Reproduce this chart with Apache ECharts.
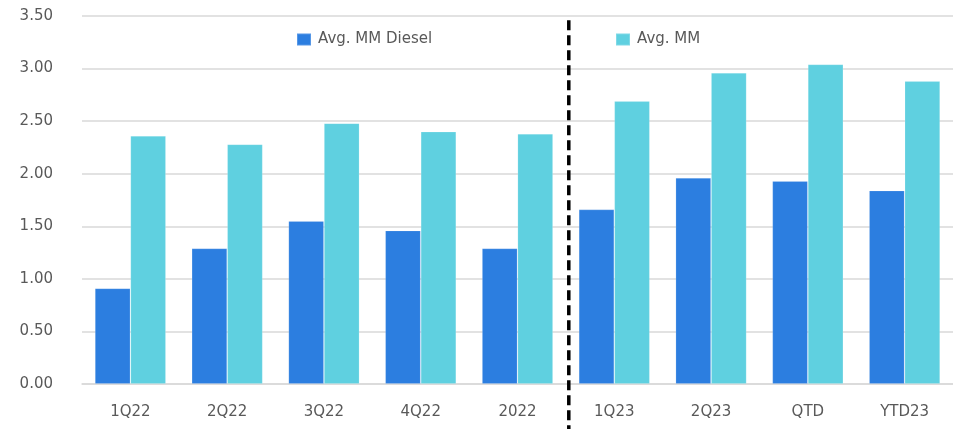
<!DOCTYPE html>
<html>
<head>
<meta charset="utf-8">
<script src="https://cdn.jsdelivr.net/npm/echarts@6/dist/echarts.min.js"></script>
<style>
  html, body { margin: 0; padding: 0; background: #ffffff; }
  #chart { width: 953px; height: 429px; }
</style>
</head>
<body>
<div id="chart"></div>
<script>
// Periods shown on the category axis
const periods = ['1Q22', '2Q22', '3Q22', '4Q22', '2022', '1Q23', '2Q23', 'QTD', 'YTD23'];
// Series values
const dieselValues = [0.91, 1.29, 1.55, 1.46, 1.29, 1.66, 1.96, 1.93, 1.84];
const mmValues = [2.36, 2.28, 2.48, 2.40, 2.38, 2.69, 2.96, 3.04, 2.88];
// Series names
const dieselName = 'Avg. MM Diesel';
const mmName = 'Avg. MM';
// Value axis range and step
const yMin = 0, yMax = 3.5, yStep = 0.5;
// The divider sits between these two periods
const dividerAfter = '2022';
const dividerBefore = '1Q23';

const FONT = 'DejaVu Sans';
const TEXT = '#595959';
const GRID = '#d9d9d9';

const chart = echarts.init(document.getElementById('chart'), null, { renderer: 'canvas' });

const legendBase = {
  orient: 'horizontal',
  icon: 'rect',
  itemWidth: 14,
  itemHeight: 12,
  padding: 0,
  selectedMode: false,
  textStyle: { fontFamily: FONT, fontSize: 15, color: TEXT, padding: [0, 0, 0, 2] }
};

chart.setOption({
  animation: false,
  backgroundColor: '#ffffff',
  textStyle: { fontFamily: FONT },
  legend: [
    Object.assign({}, legendBase, { left: 296, top: 32, data: [dieselName] }),
    Object.assign({}, legendBase, { left: 615, top: 32, data: [mmName] })
  ],
  grid: { left: 82, right: 0, top: 16, bottom: 45, containLabel: false },
  xAxis: {
    type: 'category',
    data: periods,
    axisLine: { show: true, lineStyle: { color: GRID, width: 1.5 } },
    axisTick: { show: false },
    axisLabel: { color: TEXT, fontSize: 15, fontFamily: FONT, margin: 21 }
  },
  yAxis: {
    type: 'value',
    min: yMin,
    max: yMax,
    interval: yStep,
    axisLine: { show: false },
    axisTick: { show: false },
    axisLabel: {
      color: TEXT, fontSize: 15, fontFamily: FONT, margin: 29,
      formatter: v => v.toFixed(2)
    },
    splitLine: { lineStyle: { color: GRID, width: 1.5 } }
  },
  series: [
    {
      name: dieselName,
      type: 'bar',
      data: dieselValues,
      barWidth: '36.7%',
      barGap: '0%',
      itemStyle: { color: '#2c7ee0', borderColor: 'rgba(255,255,255,0.2)', borderWidth: 0.8 }
    },
    {
      name: mmName,
      type: 'bar',
      data: mmValues,
      barWidth: '36.7%',
      barGap: '0%',
      itemStyle: { color: '#5fd0e0', borderColor: 'rgba(255,255,255,0.2)', borderWidth: 0.8 }
    }
  ]
});

// Dashed divider between the 2022 periods and the 2023 periods
function drawDivider() {
  const a = chart.convertToPixel({ xAxisIndex: 0 }, dividerAfter);
  const b = chart.convertToPixel({ xAxisIndex: 0 }, dividerBefore);
  const x = a + (b - a) * 0.53;
  const yTop = chart.convertToPixel({ yAxisIndex: 0 }, 3.46);
  chart.setOption({
    graphic: [{
      type: 'line',
      z: 100,
      shape: { x1: x, y1: yTop, x2: x, y2: chart.getHeight() },
      style: { stroke: '#000000', lineWidth: 3.5, lineDash: [10, 5] }
    }]
  });
}
drawDivider();
</script>
</body>
</html>
